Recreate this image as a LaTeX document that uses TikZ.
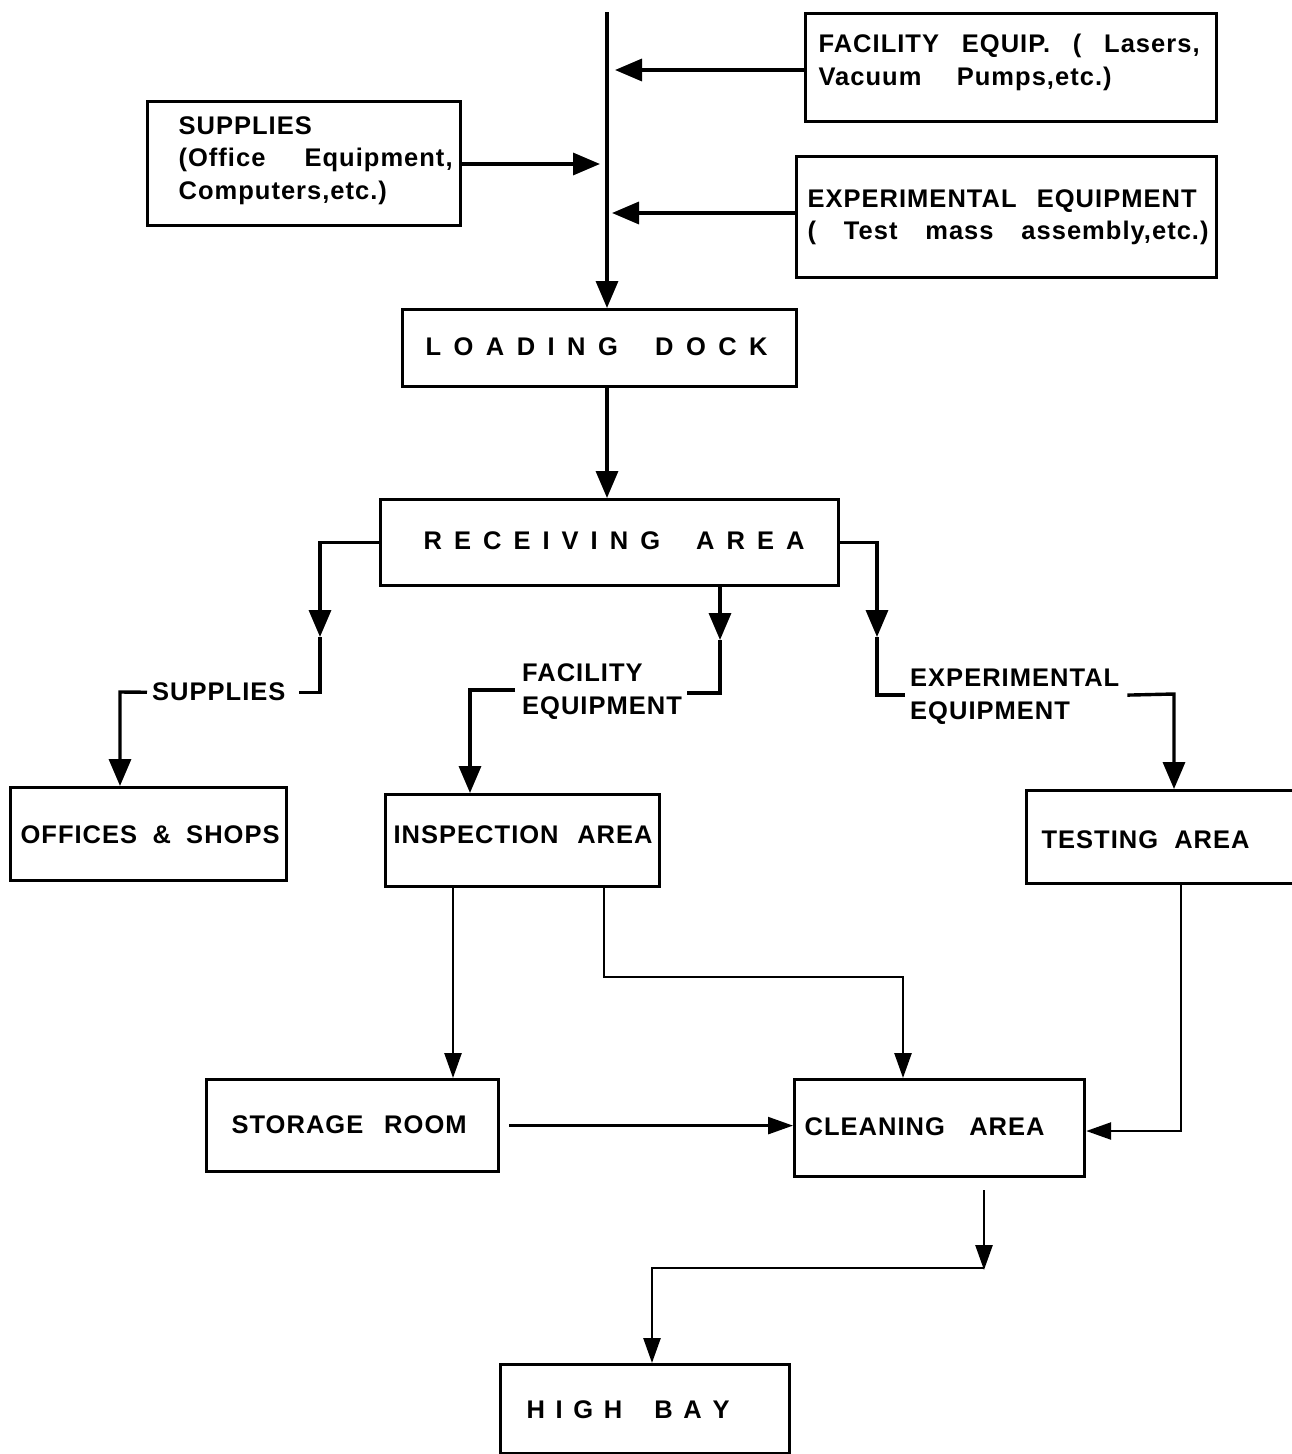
\documentclass[tikz,border=0pt]{standalone}
\usepackage{fontspec}
\setmainfont{Liberation Sans Bold}[LetterSpace=4,BoldFont={Liberation Sans Bold}]
\usetikzlibrary{arrows.meta}
\newcommand\btext[4]{\parbox[c][#2pt][t]{#1pt}{\vspace*{#3pt}#4}}
\newcommand\spr[2]{\makebox[#1pt][s]{#2}}
\newcommand\ind[1]{\hspace*{#1pt}}
\begin{document}
\begin{tikzpicture}[x=1pt,y=-1pt,
  every node/.style={font=\fontsize{25.5}{32.5}\selectfont\bfseries\frenchspacing, inner sep=0pt, anchor=north west},
  box/.style={draw, line width=3.2pt},
  ln/.style={line width=3.4pt},
  thin/.style={line width=2.6pt},
  arr/.style={-{Triangle[length=27pt,width=22pt]}},
  arrs/.style={-{Triangle[length=25pt,width=17pt]}}]
\clip (0,0) rectangle (1292,1454);
\fill[white] (0,0) rectangle (1292,1454);

% boxes
\node[box] (fac) at (804,12) {\btext{411}{108}{20.9}{\ind{13}\spr{381}{FACILITY EQUIP. ( Lasers,}\\\ind{13}\spr{293}{Vacuum Pumps,etc.)}}};
\node[box] (sup) at (146,100) {\btext{313}{124}{14.9}{\ind{31}SUPPLIES\\\ind{31}\spr{274}{(Office Equipment,}\\\ind{31}\spr{238}{Computers,etc.)}}};
\node[box] (exp) at (795,155) {\btext{420}{121}{32.9}{\ind{11}\spr{389}{EXPERIMENTAL EQUIPMENT}\\\ind{11}\spr{401}{( Test mass assembly,etc.)}}};
\node[box] (dock) at (401,308) {\btext{394}{77}{27.9}{\ind{23}\spr{342}{L O A D I N G\ \ \ D O C K}}};
\node[box] (rec) at (379,498) {\btext{458}{86}{31.9}{\ind{43}\spr{381}{R E C E I V I N G\ \ \ A R E A}}};
\node[box] (off) at (9,786) {\btext{276}{93}{37.9}{\ind{10}\spr{259}{OFFICES \& SHOPS}}};
\node[box] (insp) at (384,793) {\btext{274}{92}{30.9}{\ind{8}\spr{259}{INSPECTION AREA}}};
\node[box] (test) at (1025,789) {\btext{280}{93}{39.9}{\ind{15}\spr{208}{TESTING AREA}}};
\node[box] (stor) at (205,1078) {\btext{292}{92}{35.9}{\ind{25}\spr{235}{STORAGE ROOM}}};
\node[box] (clean) at (793,1078) {\btext{290}{97}{37.9}{\ind{10}\spr{240}{CLEANING AREA}}};
\node[box] (hb) at (499,1363) {\btext{289}{89}{35.9}{\ind{26}\spr{203}{H I G H\ \ \ B A Y}}};

% branch labels
\node (lsup) at (152,682.9) {\btext{140}{18.3}{0}{SUPPLIES}};
\node (lfac) at (522,663.9) {\btext{165}{52}{0}{FACILITY\\EQUIPMENT}};
\node (lexp) at (910,668.9) {\btext{217}{52}{0}{EXPERIMENTAL\\EQUIPMENT}};

% trunk
\coordinate (t0) at (607,12);
\draw[ln,arr] (t0) -- (t0 |- dock.north);
\coordinate (tf) at (615,70);
\draw[ln,arr] (fac.west |- tf) -- (tf);
\coordinate (ts) at (600,164);
\draw[ln,arr] (sup.east |- ts) -- (ts);
\coordinate (te) at (612,213);
\draw[ln,arr] (exp.west |- te) -- (te);
\draw[ln,arr] (dock.south -| t0) -- (rec.north -| t0);

% supplies branch
\coordinate (s2) at (320,637);
\draw[ln,arr] (rec.west) -| (s2);
\draw[ln] (s2) -- (s2 |- lsup.east) -- ([xshift=7pt]lsup.east);
\coordinate (s4) at (120,692);
\draw[ln,arr] ([xshift=-5pt]lsup.west) -- (s4) -- (s4 |- off.north);

% facility branch
\coordinate (f1) at (720,640);
\coordinate (f2) at (720,693);
\draw[ln,arr] (rec.south -| f1) -- (f1);
\draw[ln] (f1) -- (f2) -- (lfac.east |- f2);
\coordinate (f3) at (470,793);
\draw[ln,arr] ([xshift=-7pt]lfac.west) -| (f3);

% experimental branch
\coordinate (e1) at (877,637);
\draw[ln,arr] (rec.east) -| (e1);
\draw[ln] (e1) -- (e1 |- lexp.west) -- ([xshift=-5pt]lexp.west);
\coordinate (e3) at (1174,694);
\draw[ln,arr] (lexp.east) -- (e3) -- (e3 |- test.north);

% lower flows
\coordinate (i1) at (453,0);
\draw[thin,arrs] (insp.south -| i1) -- (stor.north -| i1);
\coordinate (i2) at (604,977);
\coordinate (i3) at (903,977);
\draw[thin,arrs] (insp.south -| i2) -- (i2) -- (i3) -- (i3 |- clean.north);
\coordinate (c1) at (1181,1131);
\draw[thin,arrs] (test.south -| c1) -- (c1) -- (clean.east |- c1);
\draw[thin,arrs,shorten <=9pt] (stor.east) -- (clean.west |- stor.east);
\coordinate (h1) at (984,1270);
\coordinate (h2) at (652,1268);
\draw[thin,arrs,shorten <=12pt] (clean.south -| h1) -- (h1);
\draw[thin,arrs] (h1 |- h2) -- (h2) -- (h2 |- hb.north);
\end{tikzpicture}
\end{document}
